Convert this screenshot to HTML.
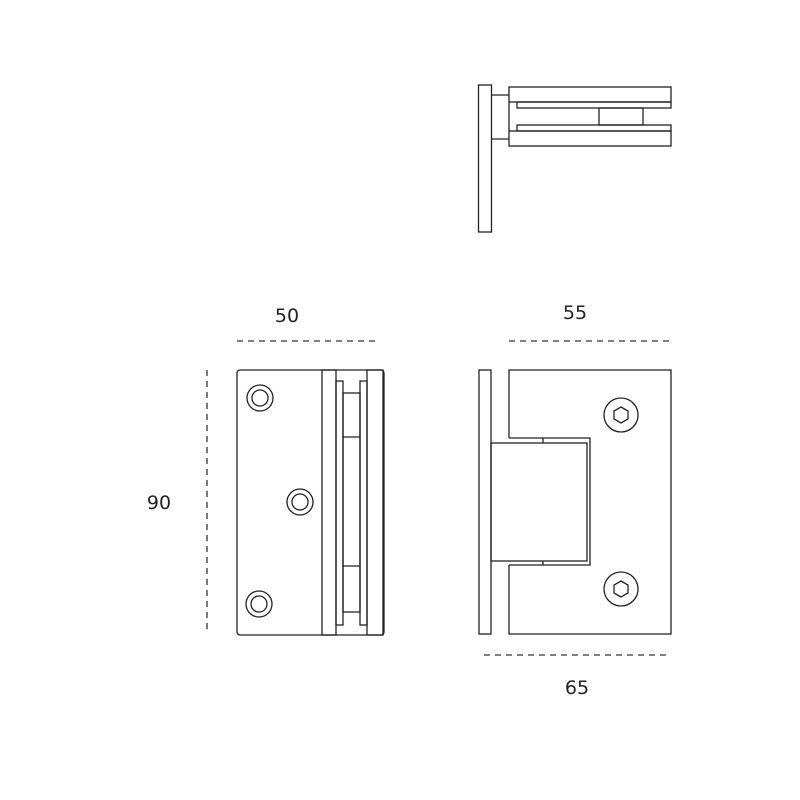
<!DOCTYPE html>
<html><head><style>body{margin:0;background:#fff}svg{display:block}</style></head><body>
<svg width="800" height="800" viewBox="0 0 800 800" xmlns="http://www.w3.org/2000/svg" fill="none" stroke="#222" stroke-width="1.3">
<!-- top view -->
<rect x="478.5" y="85" width="13" height="147"/>
<line x1="491.5" y1="95" x2="509" y2="95"/>
<line x1="491.5" y1="139" x2="509" y2="139"/>
<rect x="509" y="87" width="162" height="15"/>
<rect x="517" y="102" width="154" height="6"/>
<rect x="599" y="108" width="44" height="17"/>
<rect x="517" y="125" width="154" height="6"/>
<rect x="509" y="131" width="162" height="15"/>
<line x1="509" y1="102" x2="509" y2="131"/>
<!-- left view -->
<rect x="237" y="370" width="147" height="265" rx="3"/>
<rect x="322" y="370" width="14" height="265"/>
<rect x="367" y="370" width="16" height="265"/>
<rect x="336" y="381" width="7" height="244"/>
<rect x="360" y="381" width="7" height="244"/>
<rect x="343" y="393" width="17" height="219"/>
<line x1="343" y1="437" x2="360" y2="437"/>
<line x1="343" y1="566" x2="360" y2="566"/>
<circle cx="260" cy="398" r="13"/><circle cx="260" cy="398" r="8"/>
<circle cx="300" cy="502" r="13"/><circle cx="300" cy="502" r="8"/>
<circle cx="259" cy="604" r="13"/><circle cx="259" cy="604" r="8"/>
<!-- right view -->
<rect x="479" y="370" width="12" height="264"/>
<path d="M509 438 V370 H671 V634 H509 V565"/>
<rect x="491" y="443" width="96" height="118"/>
<path d="M509 438 H590 V565 H509"/>
<line x1="543" y1="438" x2="543" y2="443"/>
<line x1="543" y1="561" x2="543" y2="565"/>
<circle cx="621" cy="415" r="17"/>
<polygon points="621,407 628,411 628,419 621,423 614,419 614,411"/>
<circle cx="621" cy="589" r="17"/>
<polygon points="621,581 628,585 628,593 621,597 614,593 614,585"/>
<!-- dimensions -->
<g stroke-dasharray="6 5" stroke="#333">
<line x1="237" y1="341" x2="380" y2="341"/>
<line x1="207" y1="370" x2="207" y2="633"/>
<line x1="509" y1="341" x2="669" y2="341"/>
<line x1="484" y1="655" x2="671" y2="655"/>
</g>
<g font-family="DejaVu Sans, Liberation Sans, sans-serif" font-size="19" fill="#222" stroke="none" text-anchor="middle">
<text x="287" y="322">50</text>
<text x="159" y="509">90</text>
<text x="575" y="319">55</text>
<text x="577" y="694">65</text>
</g>
</svg>
</body></html>
